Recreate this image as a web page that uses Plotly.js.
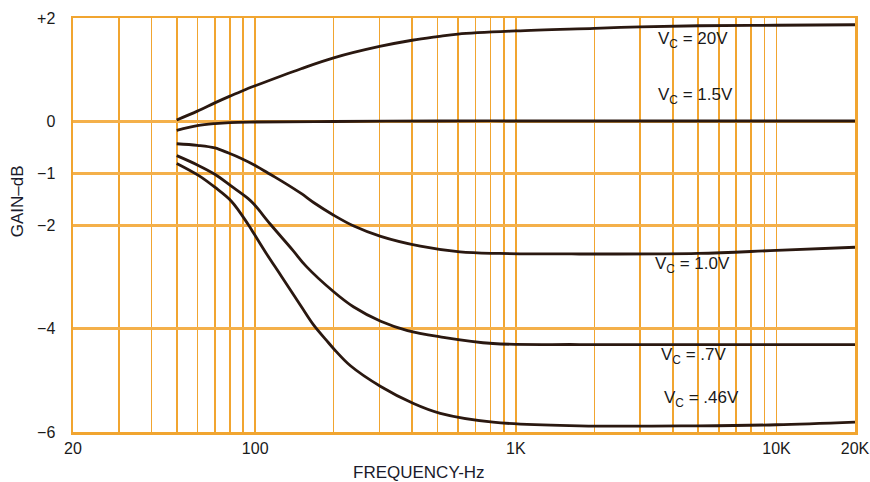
<!DOCTYPE html>
<html>
<head>
<meta charset="utf-8">
<script src="https://cdn.plot.ly/plotly-3.0.1.min.js"></script>
<style>
  html, body { margin: 0; padding: 0; background: #ffffff; }
  #chart { width: 870px; height: 482px; }
</style>
</head>
<body>
<div id="chart"></div>
<script>
// ---- Data ----
const gridFreqs = [20,30,40,50,60,70,80,90,100,200,300,400,500,600,700,800,900,1000,
                   2000,3000,4000,5000,6000,7000,8000,9000,10000,20000];
const gridLabels = ["20","","","","","","","","100","","","","","","","","","1K",
                    "","","","","","","","","10K","20K"];
const gainTicks = [2, 0, -1, -2, -4, -6];
const gainTickLabels = ["+2", "0", "\u22121", "\u22122", "\u22124", "\u22126"];

const freq20V = [50,60,70,80,90,100,150,200,300,400,500,600,1000,2000,3000,5000,10000,20000];
const gain20V = [0.03,0.2,0.36,0.49,0.6,0.69,1.02,1.23,1.45,1.57,1.64,1.69,1.75,1.8,1.83,1.85,1.86,1.87];

const freq15V = [50,60,70,80,100,200,500,1000,2000,5000,10000,20000];
const gain15V = [-0.17,-0.08,-0.04,-0.02,-0.01,0,0.01,0.01,0.01,0.01,0.01,0.01];

const freq10V = [50,60,70,79,88,100,115,131,150,168,200,239,303,430,610,862,1750,5000,10000,20000];
const gain10V = [-0.43,-0.46,-0.51,-0.61,-0.71,-0.85,-1.03,-1.2,-1.39,-1.57,-1.81,-2.02,-2.22,-2.41,-2.52,-2.55,-2.56,-2.55,-2.49,-2.43];

const freq07V = [50,60,70,81,94,99,115,139,157,200,238,303,384,513,817,1750,5000,10000,20000];
const gain07V = [-0.66,-0.84,-1.02,-1.25,-1.49,-1.6,-2.0,-2.48,-2.8,-3.29,-3.58,-3.86,-4.04,-4.16,-4.29,-4.31,-4.31,-4.31,-4.31];

const freq046V = [50,61,70,81,94,99,110,126,150,168,187,200,232,303,405,513,817,1750,5000,10000,20000];
const gain046V = [-0.81,-1.05,-1.27,-1.54,-1.99,-2.17,-2.54,-2.99,-3.57,-3.94,-4.22,-4.39,-4.72,-5.12,-5.45,-5.64,-5.81,-5.88,-5.88,-5.86,-5.81];

const curveLabels = ["V<sub>C</sub> = 20V", "V<sub>C</sub> = 1.5V", "V<sub>C</sub> = 1.0V",
                     "V<sub>C</sub> = .7V", "V<sub>C</sub> = .46V"];

// ---- Styling ----
const FONT = "Liberation Sans, Arial, Helvetica, sans-serif";
const GRID = "#F1A530";
const INK = "#2a1810";

const series = [
  [freq20V, gain20V], [freq15V, gain15V], [freq10V, gain10V],
  [freq07V, gain07V], [freq046V, gain046V]
];

const traces = series.map((s, i) => ({
  x: s[0], y: s[1], type: "scatter", mode: "lines",
  name: curveLabels[i],
  line: { color: INK, width: 2.8, shape: "spline", smoothing: 1.0 },
  hoverinfo: "x+y"
}));

const labelPos = [
  [0.745, 0.947], [0.745, 0.812], [0.742, 0.403], [0.749, 0.184], [0.753, 0.080]
];

const annotations = curveLabels.map((t, i) => ({
  text: t, xref: "paper", yref: "paper",
  x: labelPos[i][0], y: labelPos[i][1], xanchor: "left", yanchor: "middle",
  showarrow: false, font: { family: FONT, size: 17, color: "#1a1a1a" }
}));

annotations.push({
  text: "FREQUENCY-Hz", xref: "paper", yref: "paper", x: 0.443, y: -0.097,
  xanchor: "center", yanchor: "middle", showarrow: false,
  font: { family: FONT, size: 17, color: "#1a1a2a" }
});
annotations.push({
  text: "GAIN\u2013dB", xref: "paper", yref: "paper", x: -0.070, y: 0.558,
  xanchor: "center", yanchor: "middle", textangle: -90, showarrow: false,
  font: { family: FONT, size: 17, color: "#1a1a2a" }
});

const layout = {
  width: 870, height: 482,
  margin: { l: 73, r: 15, t: 18, b: 50 },
  paper_bgcolor: "#ffffff", plot_bgcolor: "#ffffff",
  showlegend: false,
  xaxis: {
    type: "log",
    range: [Math.log10(20), Math.log10(20000)],
    tickmode: "array", tickvals: gridFreqs, ticktext: gridLabels,
    showgrid: true, gridcolor: GRID, gridwidth: 1.6,
    showline: true, linecolor: GRID, linewidth: 2.5, mirror: true,
    zeroline: false, ticks: "", ticklabeloverflow: "allow",
    tickfont: { family: FONT, size: 16, color: "#1a1a1a" }
  },
  yaxis: {
    range: [-6, 2],
    tickmode: "array", tickvals: gainTicks, ticktext: gainTickLabels,
    showgrid: true, gridcolor: "#F4B04A", gridwidth: 3,
    showline: true, linecolor: GRID, linewidth: 2.5, mirror: true,
    zeroline: false, ticks: "", ticklabelstandoff: 12,
    tickfont: { family: FONT, size: 16, color: "#1a1a1a" }
  },
  annotations: annotations
};

Plotly.newPlot("chart", traces, layout, { staticPlot: true, displayModeBar: false });
</script>
</body>
</html>
